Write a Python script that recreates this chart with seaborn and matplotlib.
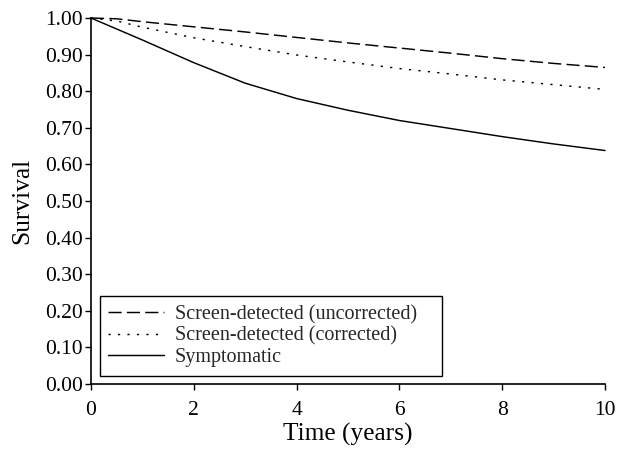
import matplotlib
matplotlib.use("Agg")
import matplotlib.pyplot as plt
import pandas as pd
import seaborn as sns

# Survival curves
years = [0, 0.5, 1, 2, 3, 4, 5, 6, 7, 8, 9, 10]
uncorrected = [1.000, 0.998, 0.990, 0.976, 0.962, 0.947, 0.932, 0.918, 0.904, 0.889, 0.876, 0.865]
corrected = [1.000, 0.992, 0.975, 0.946, 0.922, 0.899, 0.880, 0.862, 0.847, 0.831, 0.818, 0.805]
symptomatic = [1.000, 0.970, 0.940, 0.878, 0.822, 0.780, 0.748, 0.720, 0.698, 0.676, 0.656, 0.638]

labels = ["Screen-detected (uncorrected)", "Screen-detected (corrected)", "Symptomatic"]
x_ticks = [0, 2, 4, 6, 8, 10]
y_ticks = [i / 10 for i in range(11)]


def main() -> None:
    df = pd.concat(
        [
            pd.DataFrame({"Time": years, "Survival": vals, "Group": lab})
            for vals, lab in zip([uncorrected, corrected, symptomatic], labels)
        ],
        ignore_index=True,
    )

    sns.set_theme(style="ticks")
    plt.rcParams["font.family"] = ["Liberation Serif", "DejaVu Serif"]

    fig = plt.figure(figsize=(6.17, 4.51), dpi=100)
    ax = fig.add_axes([0.1475, 0.1486, 0.833, 0.8114])

    dashes = {labels[0]: (9, 3.6), labels[1]: (1.5, 5), labels[2]: ""}
    sns.lineplot(
        data=df,
        x="Time",
        y="Survival",
        style="Group",
        style_order=labels,
        dashes=dashes,
        color="black",
        linewidth=1.05,
        ax=ax,
        clip_on=False,
    )

    ax.set_xlim(0, 10)
    ax.set_ylim(0, 1)
    ax.set_xticks(x_ticks)
    ax.set_yticks(y_ticks)
    ax.set_yticklabels([f"{v:.2f}" for v in y_ticks])
    ax.tick_params(axis="both", labelsize=15.5, length=4, width=1, color="black",
                   labelcolor="black", direction="out")
    ax.tick_params(axis="x", pad=8.5)
    ax.tick_params(axis="y", pad=2)
    ax.set_xlabel("Time (years)", fontsize=18.3, color="black", labelpad=2)
    ax.set_ylabel("Survival", fontsize=18.3, color="black", labelpad=8)
    sns.despine(ax=ax)
    for side in ["left", "bottom"]:
        ax.spines[side].set_color("black")
        ax.spines[side].set_linewidth(1.2)

    handles, _ = ax.get_legend_handles_labels()
    leg = ax.legend(
        handles,
        labels,
        loc="lower left",
        bbox_to_anchor=(0.0175, 0.0227, 0.6655, 0.216),
        mode="expand",
        borderaxespad=0,
        fontsize=14.5,
        frameon=True,
        fancybox=False,
        edgecolor="black",
        framealpha=1,
        handlelength=2.75,
        handletextpad=0.55,
        labelspacing=0.12,
        borderpad=0.42,
    )
    leg.get_frame().set_linewidth(1.0)

    fig.savefig("out.png", dpi=100)
    plt.close(fig)


if __name__ == "__main__":
    main()
